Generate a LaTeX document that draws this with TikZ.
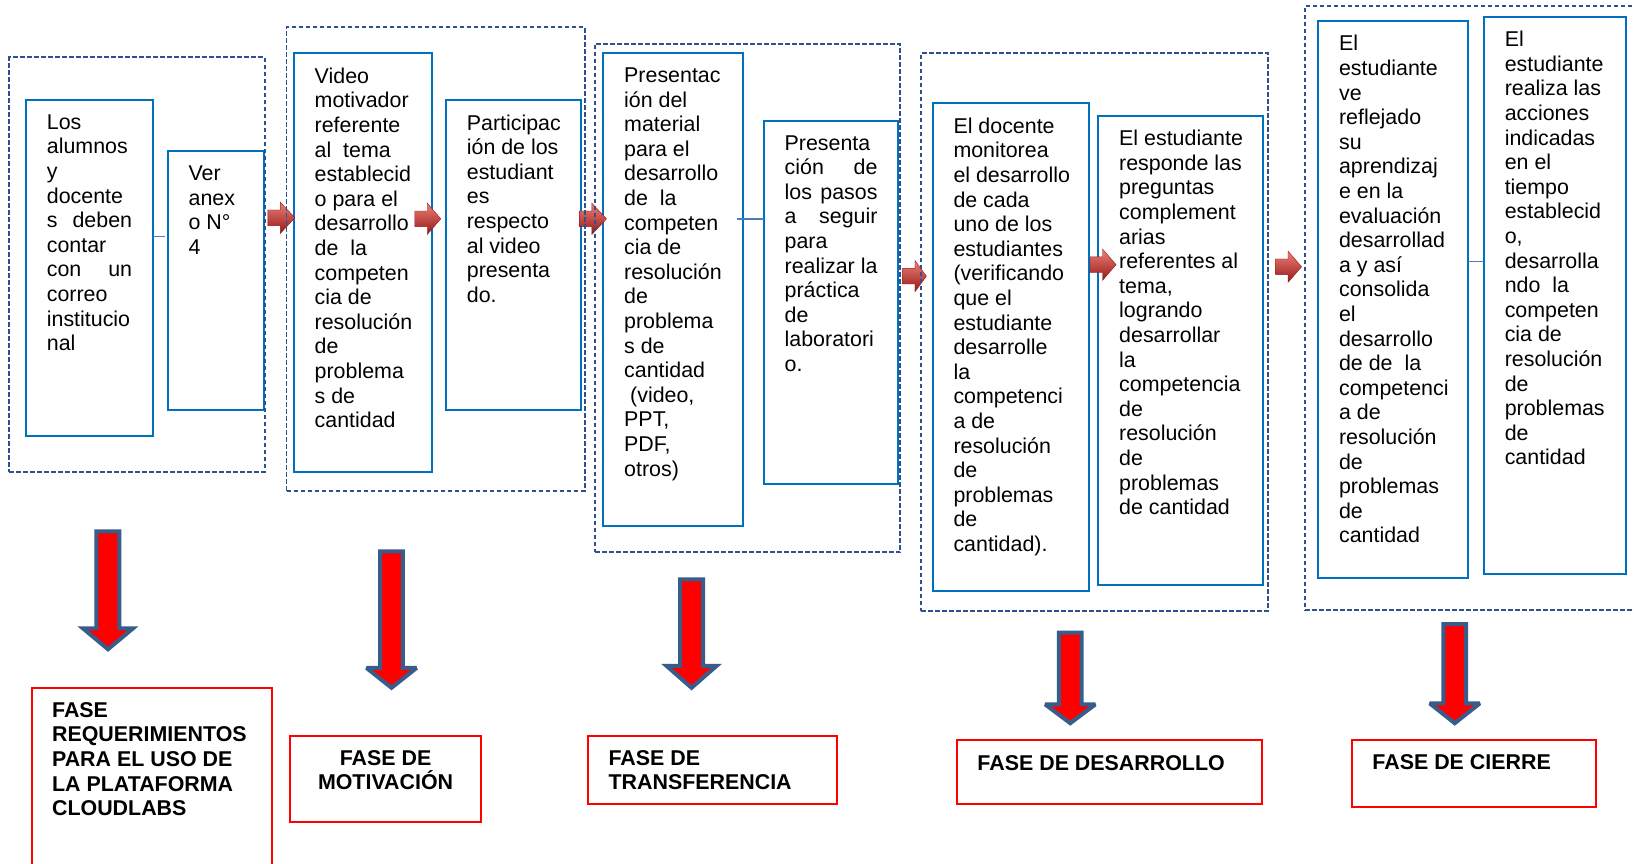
\documentclass[tikz,border=0pt]{standalone}
\usepackage{fontspec}
\setmainfont{Liberation Sans}
\usetikzlibrary{fit,calc}

\definecolor{grpblue}{RGB}{47,82,143}
\definecolor{boxblue}{RGB}{0,112,192}
\definecolor{linkblue}{RGB}{74,126,187}
\definecolor{phasered}{RGB}{255,0,0}
\definecolor{arrowrim}{RGB}{56,93,138}
\definecolor{tiplight}{RGB}{238,128,118}
\definecolor{tipmid}{RGB}{212,50,46}
\definecolor{tipdark}{RGB}{150,24,24}

% stretched line of fixed width (justified line)
\newcommand\jline[2]{\makebox[#1][s]{#2}}

% big downward block arrow: centre x, top, start of head, tip
\newcommand\dnarrow[4]{%
  \path[dnarrow] (#1-11,#2+2) -- (#1+11,#2+2) -- (#1+11,#3+2) -- (#1+24,#3+2)
    -- (#1,#4-4) -- (#1-24,#3+2) -- (#1-11,#3+2) -- cycle;}

% small shaded arrow pointing right: left x, right x, centre y
\newcommand\rtarrow[3]{%
  \path[rarrow] (#1,#3-7.5) -- (#1+12,#3-7.5) -- (#1+12,#3-15) -- (#2,#3)
    -- (#1+12,#3+15) -- (#1+12,#3+7.5) -- (#1,#3+7.5) -- cycle;}

\begin{document}
\begin{tikzpicture}[x=0.52105pt, y=-0.52105pt,
  every node/.style={inner sep=0pt, outer sep=0pt},
  grp/.style={draw=grpblue, line width=0.9pt, dash pattern=on 2.4pt off 1.1pt},
  stepbox/.style={draw=boxblue, line width=1pt},
  phasebox/.style={draw=phasered, line width=1pt},
  txt/.style={anchor=north west, align=left, font=\fontsize{10.7pt}{12.3pt}\selectfont},
  phtxt/.style={anchor=north west, align=left, font=\fontsize{10.7pt}{12.3pt}\selectfont\bfseries},
  link/.style={draw=linkblue, line width=0.8pt},
  dnarrow/.style={fill=phasered, draw=arrowrim, line width=2pt, miter limit=3},
  rarrow/.style={top color=tiplight, middle color=tipmid, bottom color=tipdark,
    draw=tipdark, line width=0.2pt}
]
\fill[white] (0,0) rectangle (1568,829);
\useasboundingbox (0,0) rectangle (1568,829);

% ---- step boxes ----
\node[stepbox, fit={(25,96) (147,418)}] (A) {};
\node[stepbox, fit={(161,145) (253,393)}] (B) {};
\node[stepbox, fit={(282,51) (415,453)}] (C) {};
\node[stepbox, fit={(428,96) (558,393)}] (D) {};
\node[stepbox, fit={(579,51) (713,505)}] (E) {};
\node[stepbox, fit={(733,116) (862,464)}] (F) {};
\node[stepbox, fit={(895,99) (1045,567)}] (G) {};
\node[stepbox, fit={(1054,111) (1212,561)}] (H) {};
\node[stepbox, fit={(1265,20) (1409,555)}] (I) {};
\node[stepbox, fit={(1424,16) (1560,551)}] (J) {};

% ---- step texts ----
\node[txt] (tA) at ([shift={(20,14)}]A.north west)
  {Los\\alumnos\\y\\docente\\\jline{42.6pt}{s deben}\\contar\\\jline{42.6pt}{con un}\\correo\\institucio\\nal};
\node[txt] (tB) at ([shift={(20,14)}]B.north west)
  {Ver\\anex\\o N°\\4};
\node[txt] (tC) at ([shift={(20,14)}]C.north west)
  {Video\\motivador\\referente\\al\ \ tema\\establecid\\o para el\\desarrollo\\de\ \ la\\competen\\cia de\\resolución\\de\\problema\\s de\\cantidad};
\node[txt] (tD) at ([shift={(20,14)}]D.north west)
  {Participac\\ión de los\\estudiant\\es\\respecto\\al video\\presenta\\do.};
\node[txt] (tE) at ([shift={(20,14)}]E.north west)
  {Presentac\\ión del\\material\\para el\\desarrollo\\de\ \ la\\competen\\cia de\\resolución\\de\\problema\\s de\\cantidad\\\hspace*{3pt}(video,\\PPT,\\PDF,\\otros)};
\node[txt] (tF) at ([shift={(20,14)}]F.north west)
  {Presenta\\\jline{46.4pt}{ción de}\\\jline{46.4pt}{los pasos}\\\jline{46.4pt}{a seguir}\\para\\realizar la\\práctica\\de\\laboratori\\o.};
\node[txt] (tG) at ([shift={(20,14)}]G.north west)
  {El docente\\monitorea\\el desarrollo\\de cada\\uno de los\\estudiantes\\(verificando\\que el\\estudiante\\desarrolle\\la\\competenci\\a de\\resolución\\de\\problemas\\de\\cantidad).};
\node[txt] (tH) at ([shift={(20,14)}]H.north west)
  {El estudiante\\responde las\\preguntas\\complement\\arias\\referentes al\\tema,\\logrando\\desarrollar\\la\\competencia\\de\\resolución\\de\\problemas\\de cantidad};
\node[txt] (tI) at ([shift={(20,14)}]I.north west)
  {El\\estudiante\\ve\\reflejado\\su\\aprendizaj\\e en la\\evaluación\\desarrollad\\a y así\\consolida\\el\\desarrollo\\de de\ \ la\\competenci\\a de\\resolución\\de\\problemas\\de\\cantidad};
\node[txt] (tJ) at ([shift={(20,14)}]J.north west)
  {El\\estudiante\\realiza las\\acciones\\indicadas\\en el\\tiempo\\establecid\\o,\\desarrolla\\ndo\ \ la\\competen\\cia de\\resolución\\de\\problemas\\de\\cantidad};

% ---- thin links inside the groups ----
\coordinate (yAB) at (0,227);
\coordinate (yEF) at (0,210);
\coordinate (yIJ) at (0,251);
\draw[link] (A.east |- yAB) -- ([shift={(-3,0)}]B.west |- yAB);
\draw[link] ([shift={(-6,0)}]E.east |- yEF) -- (F.west |- yEF);
\draw[link] (I.east |- yIJ) -- (J.west |- yIJ);

% ---- small arrows between the steps ----
\rtarrow{257}{283}{209}
\rtarrow{398}{423}{210}
\rtarrow{556}{582}{210}
\rtarrow{866}{889}{265}
\rtarrow{1046}{1071}{254}
\rtarrow{1224}{1249}{256}

% ---- dashed groups ----
\node[grp, fit={(9,55) (254,453)}] (G1) {};
\node[grp, fit={(275,26) (561,471)}] (G2) {};
\node[grp, fit={(571,42) (864,530)}] (G3) {};
\node[grp, fit={(884,51) (1217,586)}] (G4) {};
\node[grp, fit={(1252,6) (1600,585)}] (G5) {};

% ---- big arrows down to the phases ----
\dnarrow{103.6}{508}{601}{627}
\dnarrow{375.7}{527}{639}{664}
\dnarrow{663.6}{554}{637}{664}
\dnarrow{1027}{605}{674}{698}
\dnarrow{1396}{597}{673}{698}

% ---- phase boxes ----
\node[phasebox, fit={(31,660) (261,860)}] (P1) {};
\node[phasebox, fit={(278,706) (462,789)}] (P2) {};
\node[phasebox, fit={(564,706) (803,772)}] (P3) {};
\node[phasebox, fit={(918,710) (1211,772)}] (P4) {};
\node[phasebox, fit={(1297,710) (1532,774)}] (P5) {};

\node[phtxt] (tP1) at ([shift={(19,14)}]P1.north west)
  {FASE\\REQUERIMIENTOS\\PARA EL USO DE\\LA PLATAFORMA\\CLOUDLABS};
\node[phtxt, anchor=north, align=center] (tP2) at ([shift={(0,14)}]P2.north)
  {FASE DE\\MOTIVACIÓN};
\node[phtxt] (tP3) at ([shift={(20,14)}]P3.north west)
  {FASE DE\\TRANSFERENCIA};
\node[phtxt] (tP4) at ([shift={(20,15)}]P4.north west)
  {FASE DE DESARROLLO};
\node[phtxt] (tP5) at ([shift={(20,14)}]P5.north west)
  {FASE DE CIERRE};
\end{tikzpicture}
\end{document}
